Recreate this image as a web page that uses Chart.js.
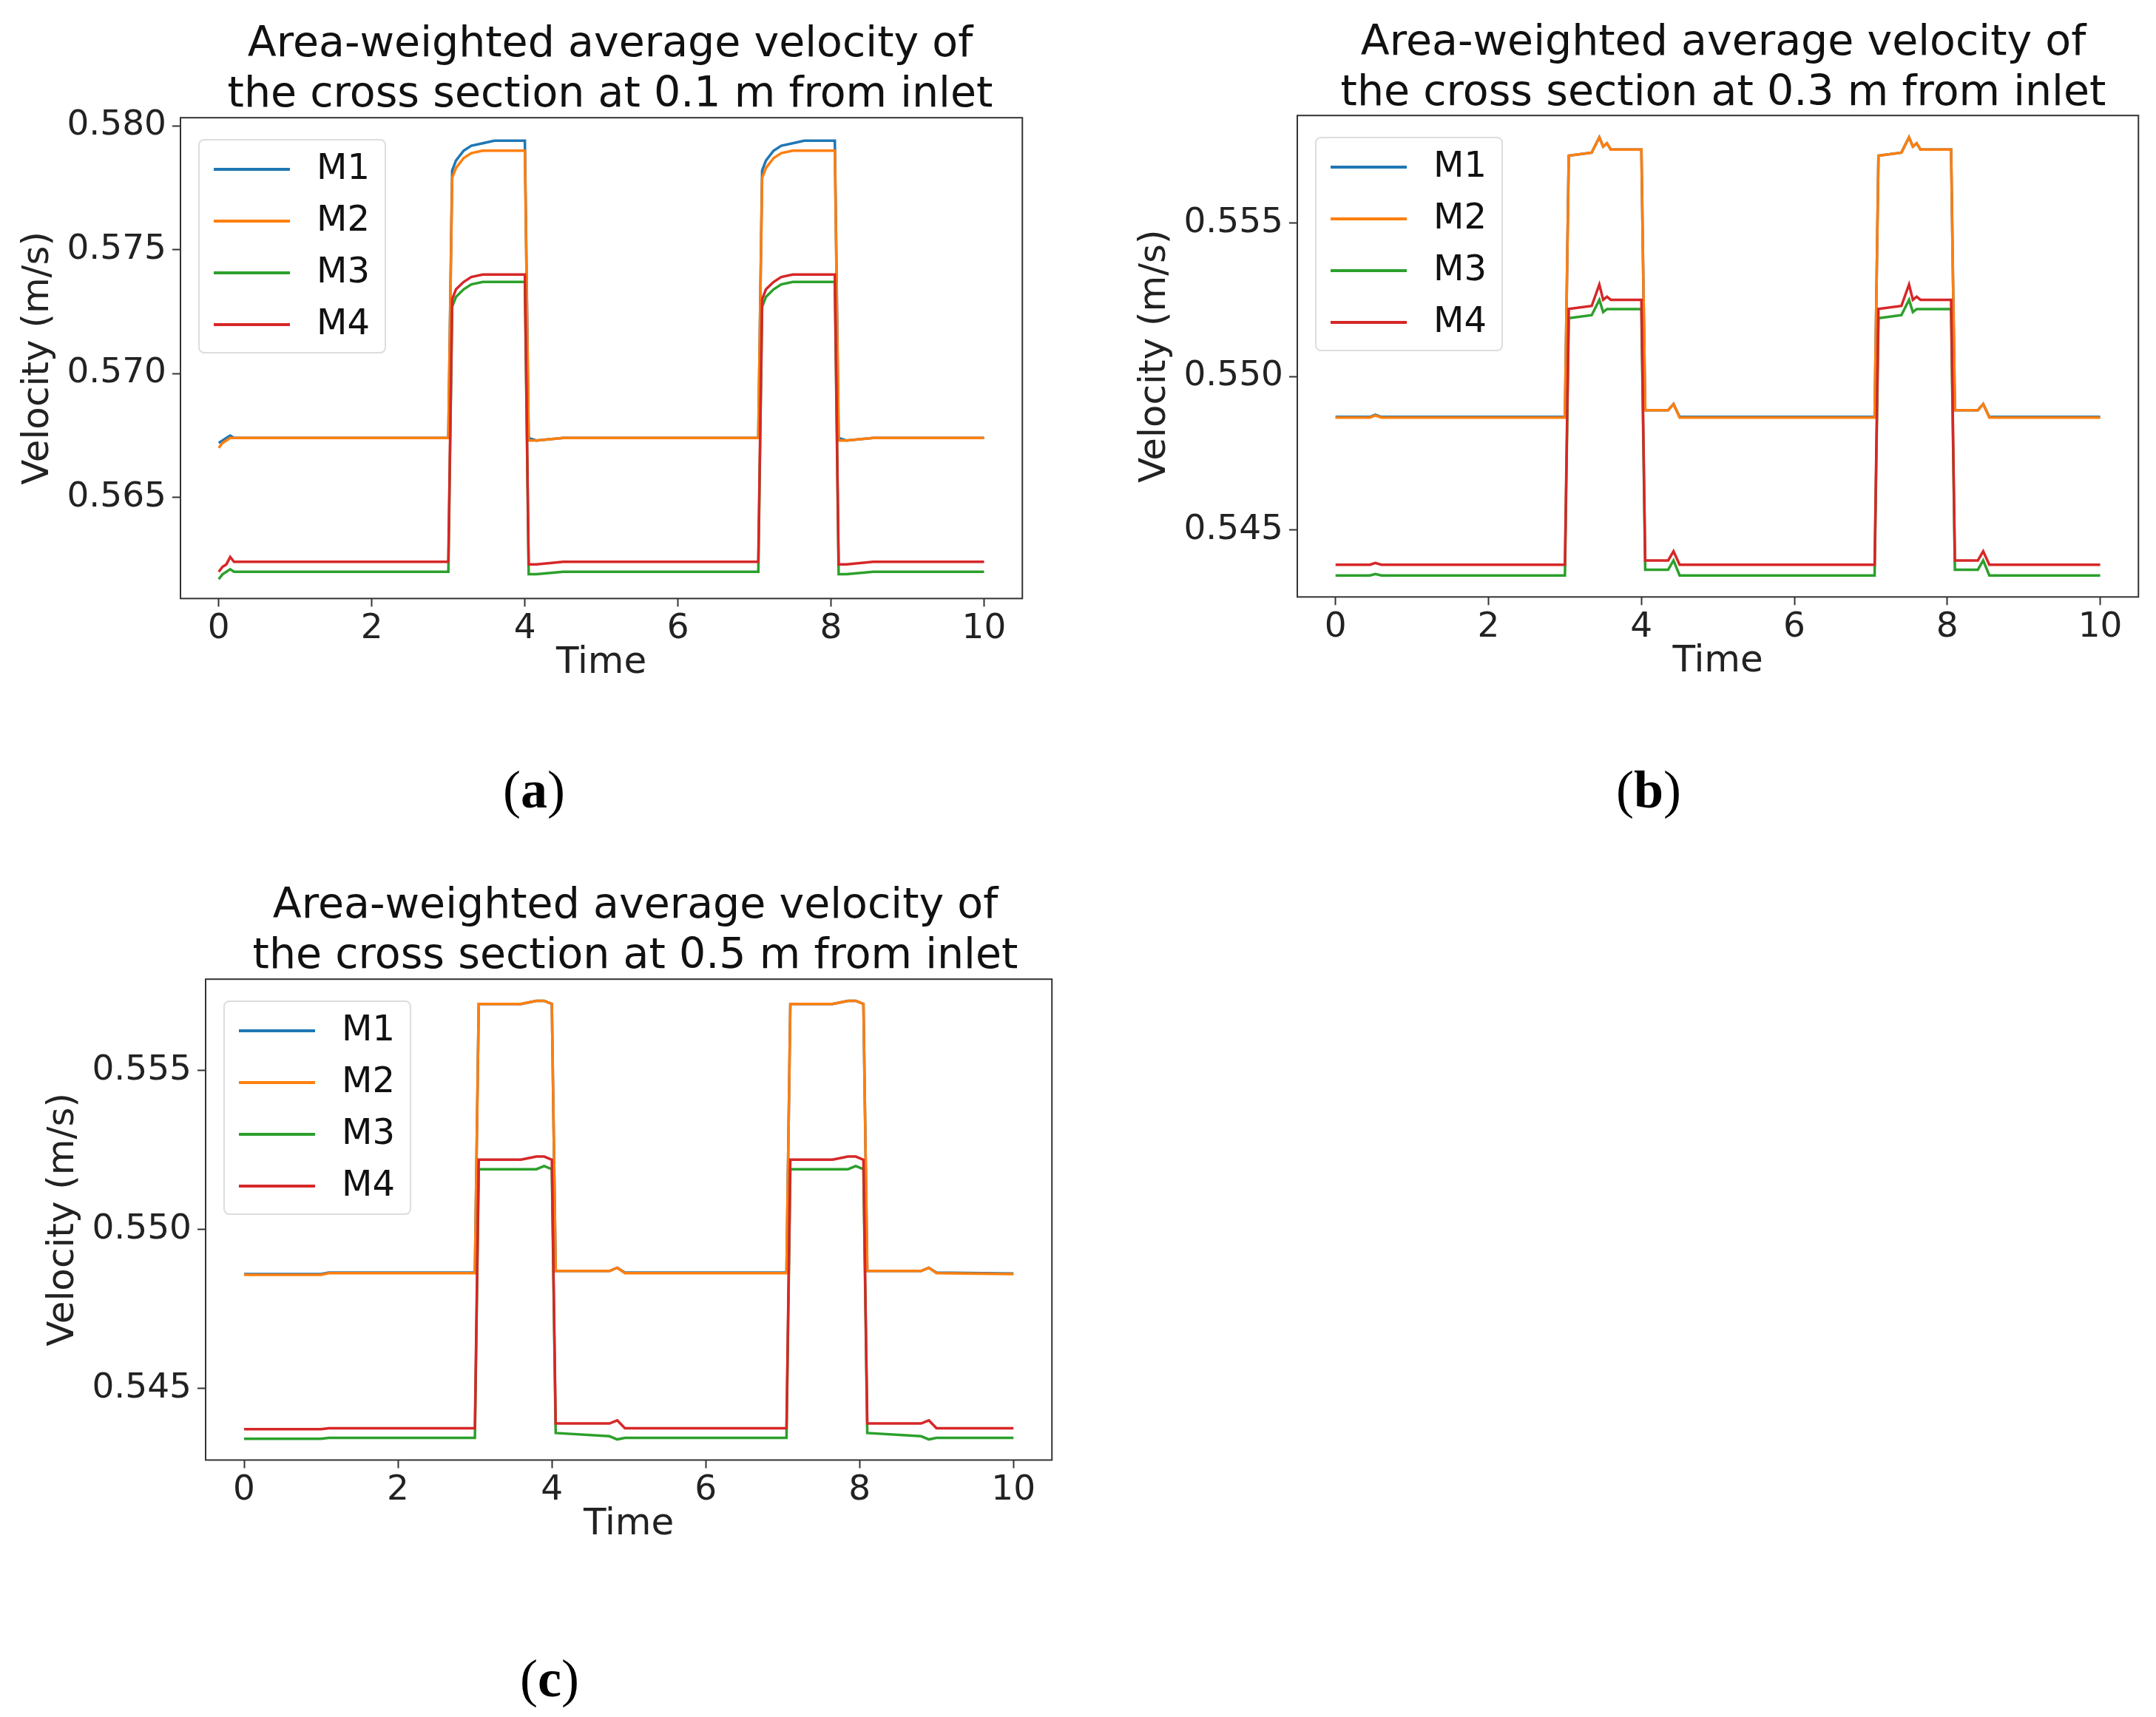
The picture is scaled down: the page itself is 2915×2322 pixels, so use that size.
<!DOCTYPE html>
<html>
<head>
<meta charset="utf-8">
<script src="https://cdn.jsdelivr.net/npm/chart.js@4"></script>
<style>
  body { margin: 0; background: #fff; width: 2915px; height: 2322px; position: relative; overflow: hidden; font-family: "DejaVu Sans", sans-serif; }
  .title { position: absolute; font-size: 57px; line-height: 68px; text-align: center; white-space: nowrap; transform: translateX(-50%); color: #111; }
  .plot { position: absolute; }
  .plot canvas { position: absolute; }
  .legend { position: absolute; left: 24px; top: 29px; width: 254px; height: 290px; border: 2px solid #ddd; border-radius: 8px; background: rgba(255,255,255,0.85); box-sizing: border-box; z-index: 2; }
  .legend div { position: absolute; left: 19px; font-size: 48px; line-height: 54px; color: #111; }
  .legend span { display: inline-block; width: 103px; height: 4px; vertical-align: middle; margin-right: 36px; }
  .sub { position: absolute; font-family: "Liberation Serif", serif; font-size: 72px; transform: translate(-50%, -50%); }
</style>
</head>
<body>

<div class="title" style="left:825px;top:22px">Area-weighted average velocity of<br>the cross section at 0.1 m from inlet</div>
<div class="title" style="left:2330px;top:20px">Area-weighted average velocity of<br>the cross section at 0.3 m from inlet</div>
<div class="title" style="left:859px;top:1187px">Area-weighted average velocity of<br>the cross section at 0.5 m from inlet</div>

<div class="sub" style="left:722px;top:1068px">(<b>a</b>)</div>
<div class="sub" style="left:2229px;top:1068px">(<b>b</b>)</div>
<div class="sub" style="left:743px;top:2270px">(<b>c</b>)</div>

<script>
var seriesNames = ["M1", "M2", "M3", "M4"];
var seriesColors = ["#1f77b4", "#ff7f0e", "#2ca02c", "#d62728"];
var xTicks = [0, 2, 4, 6, 8, 10];

// panel (a): 0.1 m from inlet
var timeA = [0, 0.05, 0.1, 0.15, 0.2, 0.3,
  3.0, 3.05, 3.1, 3.2, 3.3, 3.45, 3.6, 4.0,
  4.05, 4.15, 4.5,
  7.05, 7.1, 7.15, 7.25, 7.35, 7.5, 7.65, 8.05,
  8.1, 8.2, 8.55, 10];
var m1A = [0.5672, 0.5673, 0.5674, 0.5675, 0.5674, 0.5674,
  0.5674, 0.5782, 0.5786, 0.5790, 0.5792, 0.5793, 0.5794, 0.5794,
  0.5674, 0.5673, 0.5674,
  0.5674, 0.5782, 0.5786, 0.5790, 0.5792, 0.5793, 0.5794, 0.5794,
  0.5674, 0.5673, 0.5674, 0.5674];
var m2A = [0.5670, 0.5672, 0.5673, 0.5674, 0.5674, 0.5674,
  0.5674, 0.5779, 0.5783, 0.5787, 0.5789, 0.5790, 0.5790, 0.5790,
  0.5673, 0.5673, 0.5674,
  0.5674, 0.5779, 0.5783, 0.5787, 0.5789, 0.5790, 0.5790, 0.5790,
  0.5673, 0.5673, 0.5674, 0.5674];
var m3A = [0.5617, 0.5619, 0.5620, 0.5621, 0.5620, 0.5620,
  0.5620, 0.5727, 0.5731, 0.5734, 0.5736, 0.5737, 0.5737, 0.5737,
  0.5619, 0.5619, 0.5620,
  0.5620, 0.5727, 0.5731, 0.5734, 0.5736, 0.5737, 0.5737, 0.5737,
  0.5619, 0.5619, 0.5620, 0.5620];
var m4A = [0.5620, 0.5622, 0.5623, 0.5626, 0.5624, 0.5624,
  0.5624, 0.5730, 0.5734, 0.5737, 0.5739, 0.5740, 0.5740, 0.5740,
  0.5623, 0.5623, 0.5624,
  0.5624, 0.5730, 0.5734, 0.5737, 0.5739, 0.5740, 0.5740, 0.5740,
  0.5623, 0.5623, 0.5624, 0.5624];
var yTicksA = [0.565, 0.570, 0.575, 0.580];

// panel (b): 0.3 m from inlet
var timeB = [0, 0.45, 0.52, 0.6,
  3.0, 3.05, 3.35, 3.45, 3.5, 3.55, 3.6, 4.0,
  4.05, 4.35, 4.42, 4.5,
  7.05, 7.1, 7.4, 7.5, 7.55, 7.6, 7.65, 8.05,
  8.1, 8.4, 8.47, 8.55, 10];
var m1B = [0.54868, 0.54868, 0.54875, 0.54868,
  0.54868, 0.5572, 0.5573, 0.5578, 0.5575, 0.5576, 0.5574, 0.5574,
  0.5489, 0.5489, 0.5491, 0.54868,
  0.54868, 0.5572, 0.5573, 0.5578, 0.5575, 0.5576, 0.5574, 0.5574,
  0.5489, 0.5489, 0.5491, 0.54868, 0.54868];
var m2B = [0.54866, 0.54866, 0.54873, 0.54866,
  0.54866, 0.5572, 0.5573, 0.5578, 0.5575, 0.5576, 0.5574, 0.5574,
  0.5489, 0.5489, 0.5491, 0.54866,
  0.54866, 0.5572, 0.5573, 0.5578, 0.5575, 0.5576, 0.5574, 0.5574,
  0.5489, 0.5489, 0.5491, 0.54866, 0.54866];
var m3B = [0.54351, 0.54351, 0.54356, 0.54351,
  0.54351, 0.5519, 0.5520, 0.5525, 0.5521, 0.5522, 0.5522, 0.5522,
  0.5437, 0.5437, 0.5440, 0.54351,
  0.54351, 0.5519, 0.5520, 0.5525, 0.5521, 0.5522, 0.5522, 0.5522,
  0.5437, 0.5437, 0.5440, 0.54351, 0.54351];
var m4B = [0.54386, 0.54386, 0.54392, 0.54386,
  0.54386, 0.5522, 0.5523, 0.5530, 0.5525, 0.5526, 0.5525, 0.5525,
  0.5440, 0.5440, 0.5443, 0.54386,
  0.54386, 0.5522, 0.5523, 0.5530, 0.5525, 0.5526, 0.5525, 0.5525,
  0.5440, 0.5440, 0.5443, 0.54386, 0.54386];
var yTicksB = [0.545, 0.550, 0.555];

// panel (c): 0.5 m from inlet
var timeC = [0, 1.0, 1.1,
  3.0, 3.05, 3.6, 3.8, 3.9, 4.0,
  4.05, 4.75, 4.85, 4.95,
  7.05, 7.1, 7.65, 7.85, 7.95, 8.05,
  8.1, 8.8, 8.9, 9.0, 10];
var m1C = [0.5486, 0.5486, 0.54865,
  0.54865, 0.5571, 0.5571, 0.5572, 0.5572, 0.5571,
  0.5487, 0.5487, 0.5488, 0.54865,
  0.54865, 0.5571, 0.5571, 0.5572, 0.5572, 0.5571,
  0.5487, 0.5487, 0.5488, 0.54865, 0.54862];
var m2C = [0.54858, 0.54858, 0.54863,
  0.54863, 0.5571, 0.5571, 0.5572, 0.5572, 0.5571,
  0.5487, 0.5487, 0.5488, 0.54863,
  0.54863, 0.5571, 0.5571, 0.5572, 0.5572, 0.5571,
  0.5487, 0.5487, 0.5488, 0.54863, 0.5486];
var m3C = [0.54342, 0.54342, 0.54345,
  0.54345, 0.5519, 0.5519, 0.5519, 0.5520, 0.5519,
  0.5436, 0.5435, 0.5434, 0.54345,
  0.54345, 0.5519, 0.5519, 0.5519, 0.5520, 0.5519,
  0.5436, 0.5435, 0.5434, 0.54345, 0.54345];
var m4C = [0.54372, 0.54372, 0.54375,
  0.54375, 0.5522, 0.5522, 0.5523, 0.5523, 0.5522,
  0.5439, 0.5439, 0.5440, 0.54375,
  0.54375, 0.5522, 0.5522, 0.5523, 0.5523, 0.5522,
  0.5439, 0.5439, 0.5440, 0.54375, 0.54375];
var yTicksC = [0.545, 0.550, 0.555];

var frame = {
  id: "frame",
  afterDraw: function(chart) {
    var a = chart.chartArea, c = chart.ctx;
    c.save();
    c.strokeStyle = "#333";
    c.lineWidth = 2;
    c.strokeRect(a.left, a.top, a.right - a.left, a.bottom - a.top);
    c.restore();
  }
};

function makePanel(left, top, w, h, times, values, yMin, yMax, yTicks) {
  var yW = 222, xH = 118, pr = 40;
  var box = document.createElement("div");
  box.className = "plot";
  box.style.left = left + "px";
  box.style.top = top + "px";
  box.style.width = w + "px";
  box.style.height = h + "px";
  document.body.appendChild(box);

  var cw = yW + w + pr, ch = h + xH + 40;
  var cv = document.createElement("canvas");
  cv.width = cw;
  cv.height = ch;
  cv.style.width = cw + "px";
  cv.style.height = ch + "px";
  box.appendChild(cv);

  var lg = document.createElement("div");
  lg.className = "legend";
  for (var i = 0; i < seriesNames.length; i++) {
    var row = document.createElement("div");
    row.style.top = (8 + i * 70) + "px";
    row.innerHTML = '<span style="background:' + seriesColors[i] + '"></span>' + seriesNames[i];
    lg.appendChild(row);
  }
  box.appendChild(lg);

  var datasets = [];
  for (var s = 0; s < seriesNames.length; s++) {
    var pts = [];
    for (var k = 0; k < times.length; k++) pts.push({x: times[k], y: values[s][k]});
    datasets.push({
      label: seriesNames[s],
      data: pts,
      borderColor: seriesColors[s],
      borderWidth: 3.5,
      pointRadius: 0,
      fill: false,
      tension: 0,
      order: seriesNames.length - 1 - s
    });
  }

  var tickFont = {family: "DejaVu Sans", size: 47};
  var axisFont = {family: "DejaVu Sans", size: 50};
  var chart = new Chart(cv, {
    type: "line",
    data: {datasets: datasets},
    plugins: [frame],
    options: {
      responsive: false,
      animation: false,
      devicePixelRatio: 1,
      layout: {padding: 0},
      plugins: {legend: {display: false}, tooltip: {enabled: false}},
      scales: {
        x: {
          type: "linear",
          min: -0.5, max: 10.5,
          afterBuildTicks: function(sc) { sc.ticks = xTicks.map(function(v) { return {value: v}; }); },
          afterFit: function(sc) { sc.height = xH; },
          grid: {drawOnChartArea: false, color: "#333", tickLength: 11, tickWidth: 2},
          border: {display: false},
          ticks: {color: "#222", font: tickFont, maxRotation: 0, padding: 2},
          title: {display: true, text: "Time", color: "#222", font: axisFont, padding: 0}
        },
        y: {
          min: yMin, max: yMax,
          afterBuildTicks: function(sc) { sc.ticks = yTicks.map(function(v) { return {value: v}; }); },
          afterFit: function(sc) { sc.width = yW; },
          grid: {drawOnChartArea: false, color: "#333", tickLength: 11, tickWidth: 2},
          border: {display: false},
          ticks: {color: "#222", font: tickFont, padding: 8, callback: function(v) { return v.toFixed(3); }},
          title: {display: true, text: "Velocity (m/s)", color: "#222", font: axisFont, padding: 0}
        }
      }
    }
  });

  // fit the canvas so the plot area lands exactly on the box
  var a = chart.chartArea;
  chart.resize(cw + (w - (a.right - a.left)), ch + (h - (a.bottom - a.top)));
  a = chart.chartArea;
  cv.style.left = (-a.left) + "px";
  cv.style.top = (-a.top) + "px";
}

makePanel(244, 159, 1140, 670, timeA, [m1A, m2A, m3A, m4A], 0.56092, 0.58033, yTicksA);
makePanel(1754, 156, 1139, 671, timeB, [m1B, m2B, m3B, m4B], 0.54281, 0.55851, yTicksB);
makePanel(278, 1324, 1146, 670, timeC, [m1C, m2C, m3C, m4C], 0.54275, 0.55788, yTicksC);
</script>
</body>
</html>
